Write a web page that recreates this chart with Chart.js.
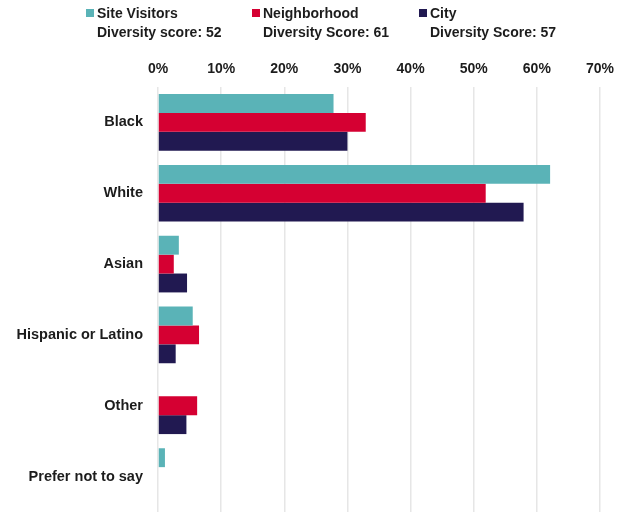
<!DOCTYPE html>
<html>
<head>
<meta charset="utf-8">
<script src="https://cdn.jsdelivr.net/npm/chart.js@4/dist/chart.umd.min.js"></script>
<style>
  html, body { margin: 0; padding: 0; background: #fff; }
  #wrap { position: relative; width: 623px; height: 512px; }
  #chart { position: absolute; left: 0; top: 0; }
  .legend-item {
    position: absolute;
    top: 4px;
    font-family: "Liberation Sans", Arial, sans-serif;
    font-weight: bold;
    font-size: 14px;
    line-height: 19px;
    color: #1c1c1c;
    white-space: nowrap;
  }
  .legend-item .swatch {
    position: absolute;
    left: -11px;
    top: 5px;
    width: 8px;
    height: 8px;
  }
</style>
</head>
<body>
<div id="wrap">
  <canvas id="chart" width="623" height="512"></canvas>
  <div id="legend"></div>
</div>
<script>
// categories (top to bottom)
const categories = ['Black', 'White', 'Asian', 'Hispanic or Latino', 'Other', 'Prefer not to say'];

// share of each group, percent
const siteVisitors = [27.8, 62.1, 3.3, 5.5, 0, 1.1];
const neighborhood = [32.9, 51.9, 2.5, 6.5, 6.2, 0];
const city = [30.0, 57.9, 4.6, 2.8, 4.5, 0];

// legend lines
const seriesNames = ['Site Visitors', 'Neighborhood', 'City'];
const scoreLabels = ['Diversity score: 52', 'Diversity Score: 61', 'Diversity Score: 57'];

// x axis ticks
const xTicks = [0, 10, 20, 30, 40, 50, 60, 70];

const colors = ['#5ab3b7', '#d50032', '#211951'];
const legendLeft = [97, 263, 430];
const FONT = '"Liberation Sans", Arial, sans-serif';
const TEXT = '#1c1c1c';

// HTML legend, two lines per series
const legendEl = document.getElementById('legend');
seriesNames.forEach((name, i) => {
  const item = document.createElement('div');
  item.className = 'legend-item';
  item.style.left = legendLeft[i] + 'px';
  const sw = document.createElement('span');
  sw.className = 'swatch';
  sw.style.background = colors[i];
  item.appendChild(sw);
  item.appendChild(document.createTextNode(name));
  item.appendChild(document.createElement('br'));
  item.appendChild(document.createTextNode(scoreLabels[i]));
  legendEl.appendChild(item);
});

const seriesData = [siteVisitors, neighborhood, city];

new Chart(document.getElementById('chart'), {
  type: 'bar',
  data: {
    labels: categories,
    datasets: seriesData.map((values, i) => ({
      label: seriesNames[i],
      data: values,
      backgroundColor: colors[i],
      borderWidth: 0,
      categoryPercentage: 0.8,
      barPercentage: 1.0,
    })),
  },
  options: {
    indexAxis: 'y',
    responsive: false,
    animation: false,
    layout: { padding: { top: 0, right: 22, bottom: 0, left: 0 } },
    plugins: {
      legend: { display: false },
      tooltip: { enabled: false },
    },
    scales: {
      x: {
        position: 'top',
        min: 0,
        max: 70,
        afterBuildTicks(scale) {
          scale.ticks = xTicks.map((v) => ({ value: v }));
        },
        afterFit(scale) {
          scale.height = 87;
        },
        ticks: {
          padding: 9,
          color: TEXT,
          font: { family: FONT, size: 14, weight: 'bold' },
          callback: (v) => v + '%',
        },
        grid: { color: '#e6e6e6', lineWidth: 1.5, drawTicks: false },
        border: { display: false },
      },
      y: {
        afterFit(scale) {
          // fixed label column; no extra vertical padding for edge labels
          scale.width = 158;
          scale.paddingTop = 0;
          scale.paddingBottom = 0;
        },
        ticks: {
          padding: 15,
          color: TEXT,
          font: { family: FONT, size: 14.5, weight: 'bold' },
        },
        grid: { display: false, drawTicks: false },
        border: { display: false },
      },
    },
  },
});
</script>
</body>
</html>
